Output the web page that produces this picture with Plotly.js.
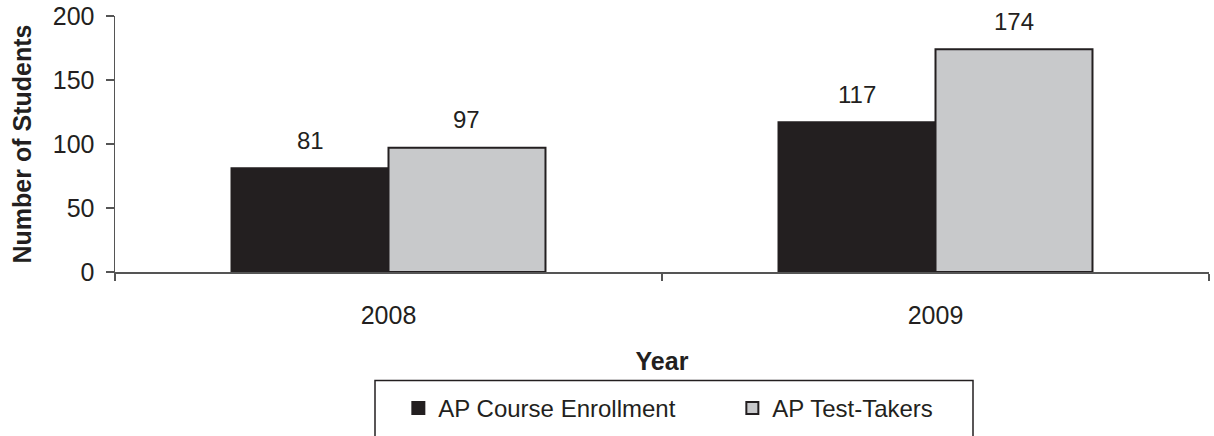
<!DOCTYPE html>
<html>
<head>
<meta charset="utf-8">
<script src="https://cdn.plot.ly/plotly-3.0.1.min.js"></script>
<style>html,body{margin:0;padding:0;background:#fff;}#chart{width:1214px;height:436px;}</style>
</head>
<body>
<div id="chart"></div>
<script>
const years = ['2008', '2009'];
const enrollment = [81, 117];
const testTakers = [97, 174];
const seriesNames = ['AP Course Enrollment', 'AP Test-Takers'];
const yTickVals = [0, 50, 100, 150, 200];

const FONT = '"Liberation Sans", Arial, sans-serif';
const INK = '#231f20';
const BARGAP = 0.426;

const traces = [
  {type: 'bar', name: seriesNames[0], x: years, y: enrollment,
   marker: {color: INK, line: {color: INK, width: 2}}, hoverinfo: 'none'},
  {type: 'bar', name: seriesNames[1], x: years, y: testTakers,
   marker: {color: '#c8c9cb', line: {color: INK, width: 2}}, hoverinfo: 'none'}
];

const off = (1 - BARGAP) / 4;
const annotations = [];
[enrollment, testTakers].forEach((vals, s) => {
  vals.forEach((v, i) => {
    annotations.push({
      x: i + (s === 0 ? -off : off), y: v, xref: 'x', yref: 'y',
      text: String(v), showarrow: false, yanchor: 'middle', yshift: 28,
      font: {family: FONT, size: 24, color: INK}
    });
  });
});

const layout = {
  width: 1214, height: 436,
  margin: {l: 115, r: 5, t: 16, b: 158},
  paper_bgcolor: '#fff', plot_bgcolor: '#fff',
  barmode: 'group', bargap: BARGAP, bargroupgap: 0,
  showlegend: true,
  legend: {orientation: 'h', x: 0.259, xanchor: 'left', y: -0.445, yanchor: 'top',
           font: {family: FONT, size: 24, color: INK}, bgcolor: 'rgba(0,0,0,0)',
           borderwidth: 0, entrywidth: 289, traceorder: 'normal'},
  xaxis: {
    type: 'category', showline: true, linecolor: '#555', linewidth: 1.5,
    ticks: 'outside', tickson: 'boundaries', ticklen: 7, tickcolor: '#555', tickwidth: 1.5,
    ticklabelstandoff: 20,
    tickfont: {family: FONT, size: 25, color: INK},
    showgrid: false, zeroline: false, fixedrange: true,
    title: {text: 'Year', standoff: 25, font: {family: FONT, size: 25, color: INK, weight: 'bold'}}
  },
  yaxis: {
    range: [0, 200], tickvals: yTickVals, showline: true, linecolor: '#555', linewidth: 1.5,
    ticks: 'outside', ticklen: 8, tickcolor: '#555', tickwidth: 1.5,
    ticklabelstandoff: 6,
    tickfont: {family: FONT, size: 25, color: INK},
    showgrid: false, zeroline: false, fixedrange: true,
    title: {text: 'Number of Students', standoff: 14, font: {family: FONT, size: 25, color: INK, weight: 'bold'}}
  },
  shapes: [{type: 'rect', xref: 'paper', yref: 'paper',
            x0: (375 - 115) / 1094, x1: (973 - 115) / 1094,
            y0: (278 - 389) / 262, y1: (278 - 450) / 262,
            line: {color: INK, width: 1.5}, fillcolor: 'rgba(0,0,0,0)', layer: 'below'}],
  annotations: annotations
};

Plotly.newPlot('chart', traces, layout, {displayModeBar: false, staticPlot: true});
</script>
</body>
</html>
